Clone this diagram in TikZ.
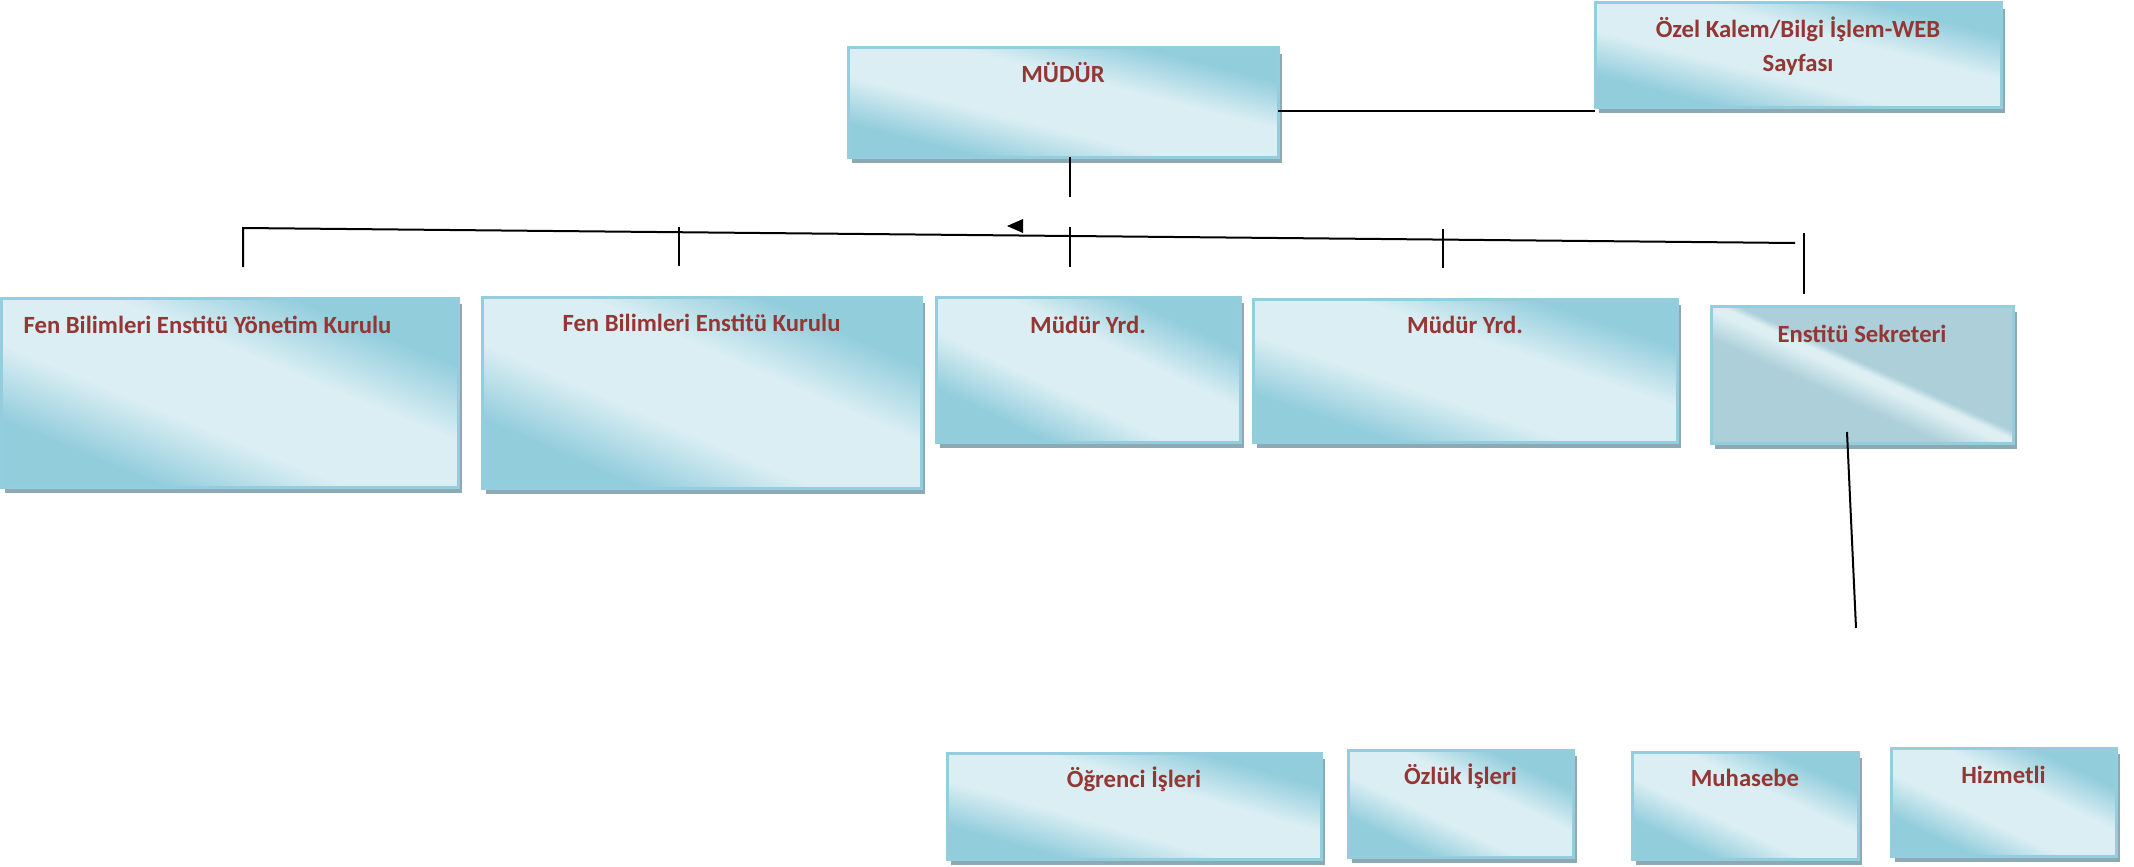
\documentclass[tikz,border=0pt]{standalone}
\usepackage{fontspec}
\setmainfont{Carlito}
\usetikzlibrary{positioning,shadows}

\definecolor{glassdark}{HTML}{92CDDC}
\definecolor{glasslight}{HTML}{DAEEF3}
\definecolor{glassedge}{HTML}{94CEDE}
\definecolor{shadowgrey}{HTML}{8DA9B3}
\definecolor{secdark}{HTML}{ACCFD9}
\definecolor{seclight}{HTML}{DDEFF3}
\definecolor{titlered}{HTML}{943634}

% diagonal glass fill of the boxes
\pgfdeclareverticalshading{glass}{100bp}{color(0bp)=(glassdark); color(29bp)=(glassdark); color(42bp)=(glasslight); color(58bp)=(glasslight); color(71bp)=(glassdark); color(100bp)=(glassdark)}
\pgfdeclareverticalshading{glassgrey}{100bp}{color(0bp)=(secdark); color(42bp)=(secdark); color(49bp)=(seclight); color(51bp)=(seclight); color(53bp)=(secdark); color(100bp)=(secdark)}

\tikzset{
    orgbox/.style={draw=glassedge, line width=3pt, shading=glass,
        inner sep=0pt, outer sep=0pt, anchor=north west,
        drop shadow={shadow xshift=4pt, shadow yshift=-6pt, fill=shadowgrey, opacity=1}},
    boxtitle/.style={anchor=base, inner sep=0pt, text=titlered, align=center,
        font=\bfseries\fontsize{24.7}{35}\selectfont},
    link/.style={line width=2pt},
    drop/.style={line width=1.5pt},
}

\begin{document}
\begin{tikzpicture}[x=1pt, y=-1pt]
\useasboundingbox (0,0) rectangle (2134,867);

% Boxes: name / top-left x / y / width / height / title shift x / title baseline / title
\foreach \name/\x/\y/\w/\h/\dx/\dy/\txt in {
    mudur/848/48/430/109/0/35/{MÜDÜR},
    ozel/1595/3/406/104/0/69/{Özel Kalem/Bilgi İşlem-WEB\\Sayfası},
    yonetim/1/298/457/189/-22/35/{Fen Bilimleri Enstitü Yönetim Kurulu},
    kurul/482/297/439/191/0/34/{Fen Bilimleri Enstitü Kurulu},
    yrdA/936/297/304/145/0/36/{Müdür Yrd.},
    yrdB/1253/299/424/143/0/34/{Müdür Yrd.},
    ogrenci/947/753/374/106/0/34/{Öğrenci İşleri},
    ozluk/1348/750/225/107/0/34/{Özlük İşleri},
    muhasebe/1632/752/226/107/0/34/{Muhasebe},
    hizmetli/1891/748/225/108/0/35/{Hizmetli}} {
    \pgfmathsetmacro{\ang}{-atan(\h/\w)}
    \node[orgbox, shading angle=\ang, minimum width=\w pt, minimum height=\h pt] (\name) at (\x,\y) {};
    \node[boxtitle] (\name-t) at ([xshift=\dx pt, yshift=-\dy pt]\name.north) {\txt};
}

% Enstitu Sekreteri has the grey glass
\pgfmathsetmacro{\ang}{-atan(137/302)}
\node[orgbox, shading=glassgrey, shading angle=\ang, minimum width=302pt, minimum height=137pt] (sekreter) at (1711,306) {};
\node[boxtitle] (sekreter-t) at ([yshift=-36pt]sekreter.north) {Enstitü Sekreteri};

% Mudur to Ozel Kalem
\coordinate (ozel-in) at ([yshift=-4pt]ozel.south west);
\draw[link] (mudur.east |- ozel-in) -- (ozel-in);

% Mudur stub
\coordinate (mudur-out) at ([xshift=7pt]mudur.south);
\coordinate (mudur-stub) at (1070,197);
\draw[drop] (mudur-out) -- (mudur-stub);

% Bar with drops
\coordinate (bar-w) at (243,228);
\coordinate (bar-e) at (1795,243);
\coordinate (drop-w) at (243,267);
\draw[link] (drop-w) -- (bar-w) -- (bar-e);
\foreach \i/\x/\ya/\yb in {1/679/227/266, 2/1070/227/267, 3/1443/229/268, 4/1804/233/294} {
    \coordinate (drop\i-top) at (\x,\ya);
    \coordinate (drop\i-end) at (\x,\yb);
    \draw[drop] (drop\i-top) -- (drop\i-end);
}
\fill (1007,226) -- (1023,219) -- (1023,233) -- cycle;

% Sekreter down
\coordinate (sekreter-out) at (1847,432);
\coordinate (sekreter-end) at (1856,628);
\draw[link] (sekreter-out) -- (sekreter-end);

\end{tikzpicture}
\end{document}
